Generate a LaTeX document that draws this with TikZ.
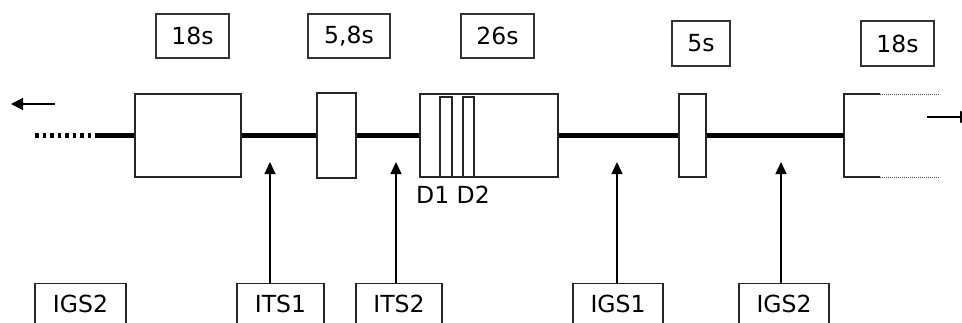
\documentclass[tikz,border=0pt]{standalone}
\usepackage{fontspec}
\setmainfont{DejaVu Sans}
\usetikzlibrary{arrows.meta}
\begin{document}
\begin{tikzpicture}[x=1pt,y=-1pt,
  font=\fontsize{23.5}{27}\selectfont,
  tbox/.style={draw=black!80,line width=1.3pt,minimum height=44pt,inner sep=0pt},
  stage/.style={draw=black!85,line width=1.3pt,minimum height=83pt,inner sep=0pt},
  slot/.style={draw=black!85,line width=1.2pt,minimum height=80pt,inner sep=0pt},
  feed/.style={draw=black!85,line width=1.3pt,minimum height=50pt,inner sep=0pt,anchor=north},
  pipe/.style={line width=4.2pt},
  inlet/.style={line width=1.4pt,-{Triangle[length=12pt,width=11pt]}},
  dir/.style={line width=1.3pt,-{Triangle[length=12pt,width=12pt]}}]
\clip (0,0) rectangle (962,322);
\fill[white] (0,0) rectangle (962,322);

% durations
\node[tbox,minimum width=73pt] (t1) at (192.5,36) {18s};
\node[tbox,minimum width=82pt] (t2) at (349,36) {5,8s};
\node[tbox,minimum width=73pt] (t3) at (497.5,36) {26s};
\node[tbox,minimum width=58pt,minimum height=45pt] (t4) at (701,43.5) {5s};
\node[tbox,minimum width=73pt,minimum height=45pt] (t5) at (897.5,43.5) {18s};

% stages along the line
\node[stage,minimum width=106pt] (m1) at (188,135.5) {};
\node[stage,minimum width=39pt,minimum height=85pt] (m2) at (336.5,135.5) {};
\node[stage,minimum width=138pt] (m3) at (489,135.5) {};
\node[slot,minimum width=12pt] (d1) at (446,137) {};
\node[slot,minimum width=11pt] (d2) at (468.5,137) {};
\node[stage,minimum width=27pt] (m4) at (692.5,135.5) {};
\node (dl) at (453,195) {D1 D2};

% open stage on the right
\coordinate (o1) at (880,94);
\coordinate (o2) at (844,94);
\coordinate (o3) at (844,177);
\coordinate (o4) at (880,177);
\coordinate (o5) at (939,94);
\coordinate (o6) at (939,177);
\draw[line width=1.3pt,black!85] (o1) -- (o2) -- (o3) -- (o4);
\draw[line width=1pt,black!70,dash pattern=on 1.2pt off 0.8pt] (o1) -- (o5);
\draw[line width=1pt,black!70,dash pattern=on 1.2pt off 0.8pt] (o4) -- (o6);

% main line
\coordinate (p0) at (35,135.5);
\coordinate (p1) at (97,135.5);
\coordinate (o0) at (844,135.5);
\draw[line width=4.2pt,dash pattern=on 3.5pt off 4pt] (p0) -- (p1);
\draw[pipe] (p1) -- (m1.west);
\draw[pipe] (m1.east) -- (m2.west);
\draw[pipe] (m2.east) -- (m3.west);
\draw[pipe] (m3.east) -- (m4.west);
\draw[pipe] (m4.east) -- (o0);

% direction arrows
\coordinate (l0) at (55,104);
\coordinate (l1) at (11,104);
\coordinate (r0) at (927,117);
\coordinate (r1) at (972,117);
\draw[dir] (l0) -- (l1);
\draw[dir] (r0) -- (r1);

% feeds
\node[feed,minimum width=91pt] (b1) at (80.5,283) {};
\node[feed,minimum width=87pt] (b2) at (280.5,283) {};
\node[feed,minimum width=86pt] (b3) at (399,283) {};
\node[feed,minimum width=90pt] (b4) at (618,283) {};
\node[feed,minimum width=90pt] (b5) at (784,283) {};
\node at (80.5,304) {IGS2};
\node at (280.5,304) {ITS1};
\node at (399,304) {ITS2};
\node at (618,304) {IGS1};
\node at (784,304) {IGS2};

\coordinate (h2) at (270,162);
\coordinate (h3) at (396,162);
\coordinate (h4) at (617,162);
\coordinate (h5) at (781,162);
\draw[inlet] (h2 |- b2.north) -- (h2);
\draw[inlet] (h3 |- b3.north) -- (h3);
\draw[inlet] (h4 |- b4.north) -- (h4);
\draw[inlet] (h5 |- b5.north) -- (h5);
\end{tikzpicture}
\end{document}
